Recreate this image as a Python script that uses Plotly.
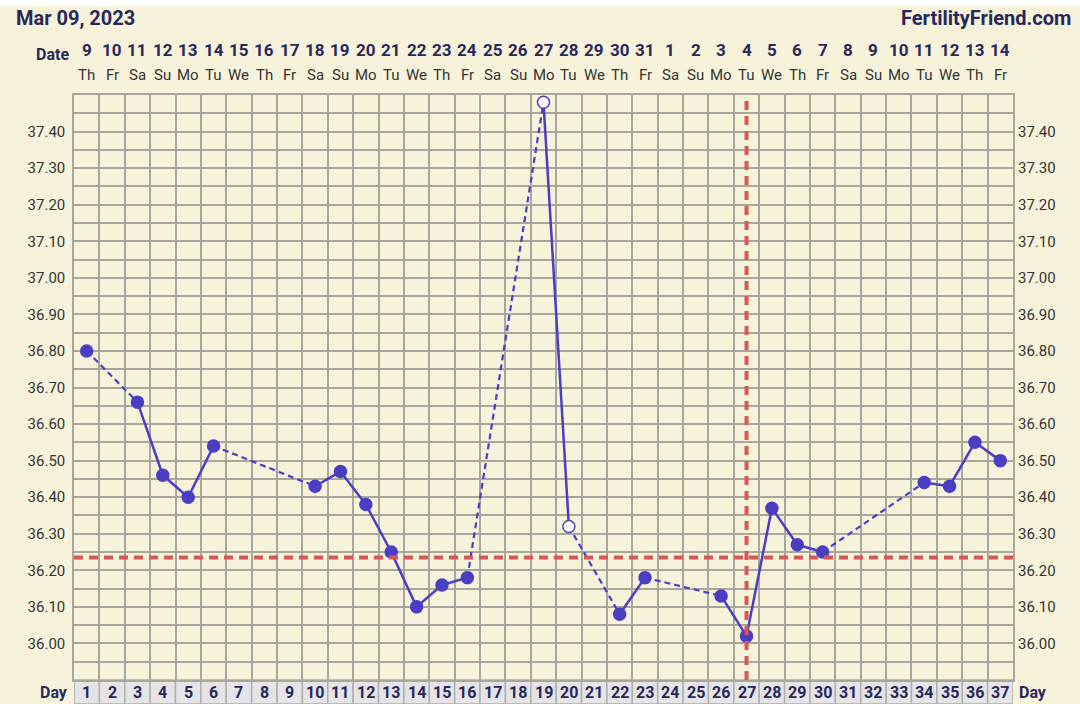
import plotly.graph_objects as go

# ---- data ----
cycle_days = list(range(1, 38))
dates = ["9", "10", "11", "12", "13", "14", "15", "16", "17", "18", "19", "20", "21", "22",
         "23", "24", "25", "26", "27", "28", "29", "30", "31", "1", "2", "3", "4", "5", "6",
         "7", "8", "9", "10", "11", "12", "13", "14"]
weekdays = ["Th", "Fr", "Sa", "Su", "Mo", "Tu", "We", "Th", "Fr", "Sa", "Su", "Mo", "Tu", "We",
            "Th", "Fr", "Sa", "Su", "Mo", "Tu", "We", "Th", "Fr", "Sa", "Su", "Mo", "Tu", "We",
            "Th", "Fr", "Sa", "Su", "Mo", "Tu", "We", "Th", "Fr"]
temp_days = [1, 3, 4, 5, 6, 10, 11, 12, 13, 14, 15, 16, 19, 20, 22, 23, 26, 27, 28, 29, 30, 34, 35, 36, 37]
temps = [36.80, 36.66, 36.46, 36.40, 36.54, 36.43, 36.47, 36.38, 36.25, 36.10, 36.16, 36.18,
         37.48, 36.32, 36.08, 36.18, 36.13, 36.02, 36.37, 36.27, 36.25, 36.44, 36.43, 36.55, 36.50]
open_days = [19, 20]
coverline = 36.235
ovulation_day = 27
y_ticks = [round(36.00 + 0.1 * i, 2) for i in range(15)]

# ---- styles ----
BG = "#f7f3db"
GRID = "#a8a79d"
PURPLE = "#4a3ec2"
RED = "#d8585a"
NAVY = "#29285a"
FONT = "Roboto"

sx, sy, dx, dy = [], [], [], []
for i in range(len(temp_days) - 1):
    a, b = temp_days[i], temp_days[i + 1]
    if b - a == 1:
        sx += [a, b, None]; sy += [temps[i], temps[i + 1], None]
    else:
        dx += [a, b, None]; dy += [temps[i], temps[i + 1], None]

fig = go.Figure()
fig.add_trace(go.Scatter(x=dx, y=dy, mode="lines", line=dict(color=PURPLE, width=2.2, dash="6px,4px"),
                         hoverinfo="skip", showlegend=False))
fig.add_trace(go.Scatter(x=sx, y=sy, mode="lines", line=dict(color=PURPLE, width=2.5),
                         hoverinfo="skip", showlegend=False))
fill_cols = ["white" if d in open_days else PURPLE for d in temp_days]
fig.add_trace(go.Scatter(x=temp_days, y=temps, mode="markers",
                         marker=dict(size=12, color=fill_cols, line=dict(color=PURPLE, width=1.5)),
                         showlegend=False))
fig.add_trace(go.Scatter(x=[1], y=[36.5], yaxis="y2", mode="markers", marker=dict(opacity=0),
                         hoverinfo="skip", showlegend=False))

shapes = []
shapes.append(dict(type="line", xref="x", yref="y", x0=0.5, x1=37.5, y0=coverline, y1=coverline,
                   line=dict(color=RED, width=4, dash="9px,6px"), layer="above"))
shapes.append(dict(type="line", xref="x", yref="paper", x0=ovulation_day, x1=ovulation_day, y0=0, y1=1,
                   line=dict(color=RED, width=4, dash="9px,6px"), layer="above"))
row_h = 24 / 585
for d in cycle_days:
    shapes.append(dict(type="rect", xref="x", yref="paper", x0=d - 0.5, x1=d + 0.5, y0=-row_h, y1=0,
                       fillcolor="#e4e3e6", line=dict(color="#b0afaa", width=1.5), layer="below"))
shapes.append(dict(type="rect", xref="paper", yref="paper", x0=-0.2, x1=1.2, y0=1 + 89 / 585, y1=1 + 100 / 585,
                   fillcolor="white", line=dict(width=0), layer="below"))

annotations = []
for d, dt, wd in zip(cycle_days, dates, weekdays):
    annotations.append(dict(x=d, y=1 + 45 / 585, xref="x", yref="paper", text="<b>" + dt + "</b>",
                            showarrow=False, font=dict(family=FONT, size=17, color=NAVY), yanchor="middle"))
    annotations.append(dict(x=d, y=1 + 20 / 585, xref="x", yref="paper", text=wd,
                            showarrow=False, font=dict(family=FONT, size=15, color="#333333"), yanchor="middle"))
    annotations.append(dict(x=d, y=-12 / 585, xref="x", yref="paper", text="<b>" + str(d) + "</b>",
                            showarrow=False, font=dict(family=FONT, size=16, color=NAVY), yanchor="middle"))
annotations += [
    dict(x=(14 - 74) / 939, y=1 + 77 / 585, xref="paper", yref="paper", text="<b>Mar 09, 2023</b>",
         xanchor="left", yanchor="middle", showarrow=False, font=dict(family=FONT, size=20, color=NAVY)),
    dict(x=(1073 - 74) / 939, y=1 + 77 / 585, xref="paper", yref="paper", text="<b>FertilityFriend.com</b>",
         xanchor="right", yanchor="middle", showarrow=False, font=dict(family=FONT, size=20, color=NAVY)),
    dict(x=(52 - 74) / 939, y=1 + 41 / 585, xref="paper", yref="paper", text="<b>Date</b>",
         xanchor="center", yanchor="middle", showarrow=False, font=dict(family=FONT, size=16, color=NAVY)),
    dict(x=(54 - 74) / 939, y=-12 / 585, xref="paper", yref="paper", text="<b>Day</b>",
         xanchor="center", yanchor="middle", showarrow=False, font=dict(family=FONT, size=16, color=NAVY)),
    dict(x=(1033 - 74) / 939, y=-12 / 585, xref="paper", yref="paper", text="<b>Day</b>",
         xanchor="center", yanchor="middle", showarrow=False, font=dict(family=FONT, size=16, color=NAVY)),
]

grid_vals = [round(35.90 + 0.05 * i, 2) for i in range(33)]
grid_text = [("%.2f" % v) if v in y_ticks else "" for v in grid_vals]

fig.update_layout(
    width=1080, height=704,
    margin=dict(l=74, r=67, t=95, b=24),
    paper_bgcolor=BG, plot_bgcolor=BG,
    shapes=shapes, annotations=annotations,
    xaxis=dict(range=[0.5, 37.5], tick0=0.5, dtick=1, showticklabels=False, showgrid=True,
               gridcolor=GRID, gridwidth=1.5, zeroline=False, showline=True, mirror=True,
               linecolor=GRID, linewidth=1.5, ticks=""),
    yaxis=dict(range=[35.90, 37.50], tickvals=grid_vals, ticktext=grid_text, showgrid=True,
               gridcolor=GRID, gridwidth=1.5, zeroline=False, showline=True, mirror=True,
               linecolor=GRID, linewidth=1.5, ticks="", ticklabelstandoff=4,
               tickfont=dict(family=FONT, size=15, color="#333333")),
    yaxis2=dict(range=[35.90, 37.50], overlaying="y", side="right", tickvals=grid_vals, ticktext=grid_text,
                showgrid=False, zeroline=False, ticks="", ticklabelstandoff=4,
                tickfont=dict(family=FONT, size=15, color="#333333")),
    font=dict(family=FONT),
)

fig.write_html("out.html", config={"displayModeBar": False},
               post_script="document.body.style.margin='0';document.body.style.background='" + BG + "';")
